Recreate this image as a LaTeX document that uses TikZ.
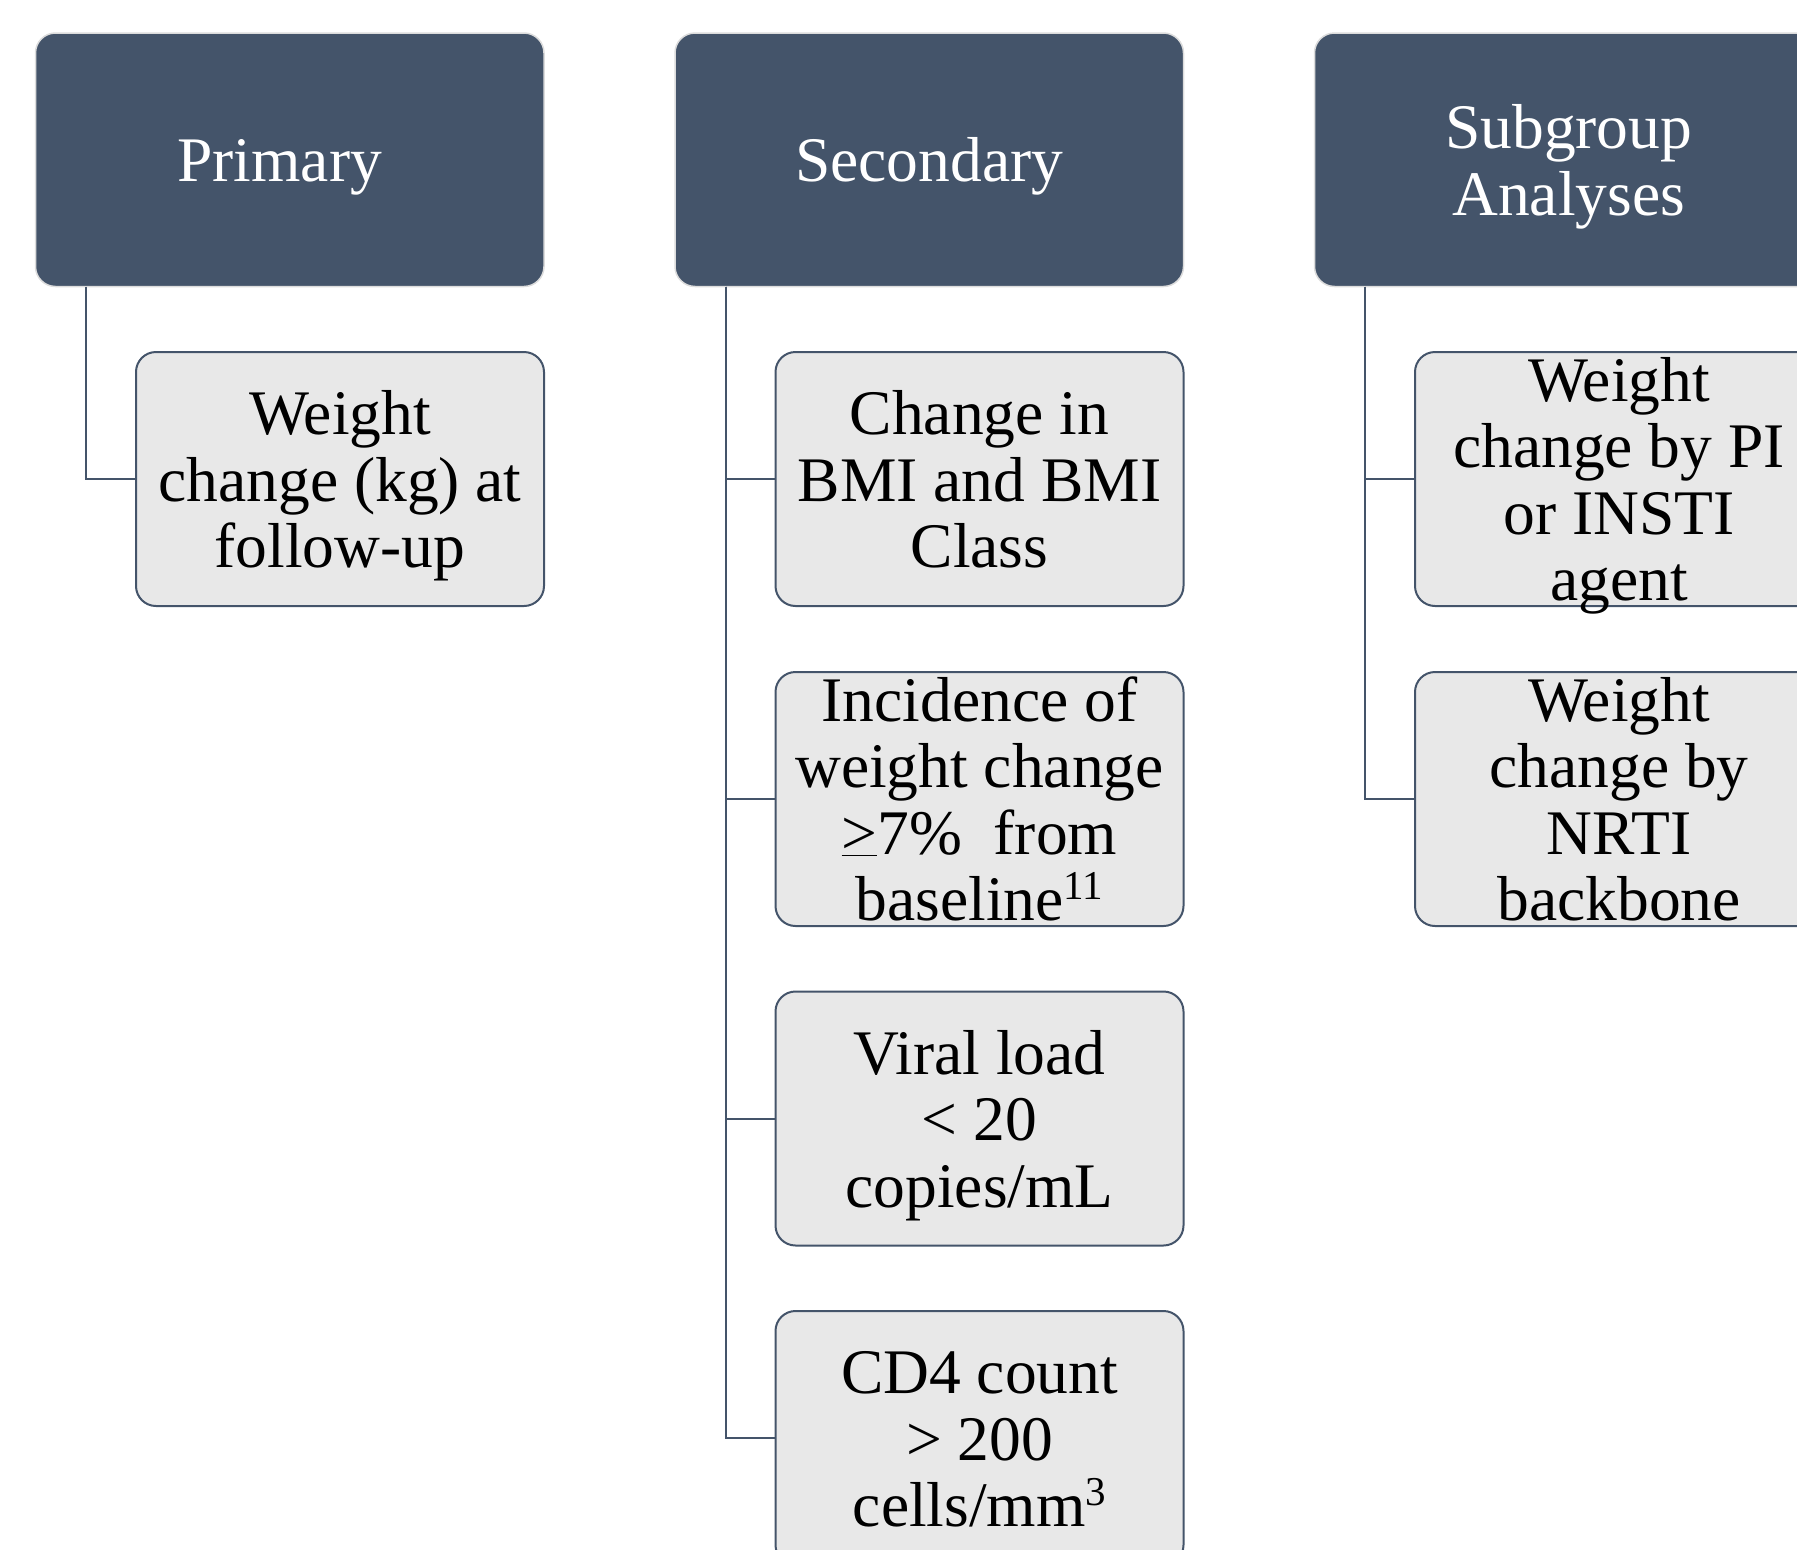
\documentclass[tikz,border=0pt]{standalone}
\usepackage{fontspec}
\setmainfont{Liberation Serif}
\definecolor{hdr}{HTML}{44546A}
\definecolor{kid}{HTML}{E8E8E8}
\definecolor{hdrline}{HTML}{DCDCDC}
\newcommand\toprule{\rule{0pt}{64pt}}
\newcommand\botrule{\rule[-20pt]{0pt}{20pt}}
\newcommand\supr[1]{\raisebox{21pt}{\fontsize{41}{41}\selectfont #1}}
\tikzset{
  hdrbox/.style={anchor=north west, draw=hdrline, line width=1.5pt, fill=hdr,
    rounded corners=20pt, minimum width=508.5pt, minimum height=253.5pt,
    inner sep=0pt, outer sep=0pt},
  kidbox/.style={anchor=north west, draw=hdr, line width=2pt, fill=kid,
    rounded corners=20pt, minimum width=408pt, minimum height=254pt,
    inner sep=0pt, outer sep=0pt},
  txt/.style={align=center, inner sep=0pt, font=\fontsize{63.5}{66.5}\selectfont},
  hdrtxt/.style={txt, text=white},
  kidtxt/.style={txt, text=black},
  conn/.style={draw=hdr, line width=2pt}
}
\begin{document}
\begin{tikzpicture}[x=1pt,y=-1pt]
\useasboundingbox (0,0) rectangle (1797,1550);
\clip (0,0) rectangle (1797,1550);
% headers
\node[hdrbox] (h1) at (35.5,33) {};
\node[hdrbox] (h2) at (675,33) {};
\node[hdrbox] (h3) at (1314.5,33) {};
\node[hdrtxt, xshift=-10pt] at (h1.center) {\toprule Primary\botrule};
\node[hdrtxt] at (h2.center) {\toprule Secondary\botrule};
\node[hdrtxt] at (h3.center) {\toprule Subgroup\\Analyses\botrule};
% children
\node[kidbox] (c1) at (136,352) {};
\node[kidbox] (c2a) at (775.5,352) {};
\node[kidbox] (c2b) at (775.5,672) {};
\node[kidbox] (c2c) at (775.5,991.5) {};
\node[kidbox] (c2d) at (775.5,1311) {};
\node[kidbox] (c3a) at (1415,352) {};
\node[kidbox] (c3b) at (1415,672) {};
\node[kidtxt] at (c1.center) {\toprule Weight\\change (kg) at\\follow-up\botrule};
\node[kidtxt] at (c2a.center) {\toprule Change in\\BMI and BMI\\Class\botrule};
\node[kidtxt] at (c2b.center) {\toprule Incidence of\\weight change\\\underline{>}7\%\ \ from\\baseline\supr{11}\botrule};
\node[kidtxt] at (c2c.center) {\toprule Viral load\\< 20\\copies/mL\botrule};
\node[kidtxt] at (c2d.center) {\toprule CD4 count\\> 200\\cells/mm\supr{3}\botrule};
\node[kidtxt] at (c3a.center) {\toprule Weight\\change by PI\\or INSTI\\agent\botrule};
\node[kidtxt] at (c3b.center) {\toprule Weight\\change by\\NRTI\\backbone\botrule};
% connectors
\draw[conn] ([xshift=50.5pt]h1.south west) |- (c1.west);
\draw[conn] ([xshift=50.5pt]h2.south west) |- (c2a.west);
\draw[conn] ([xshift=50.5pt]h2.south west) |- (c2b.west);
\draw[conn] ([xshift=50.5pt]h2.south west) |- (c2c.west);
\draw[conn] ([xshift=50.5pt]h2.south west) |- (c2d.west);
\draw[conn] ([xshift=50.5pt]h3.south west) |- (c3a.west);
\draw[conn] ([xshift=50.5pt]h3.south west) |- (c3b.west);
\end{tikzpicture}
\end{document}
